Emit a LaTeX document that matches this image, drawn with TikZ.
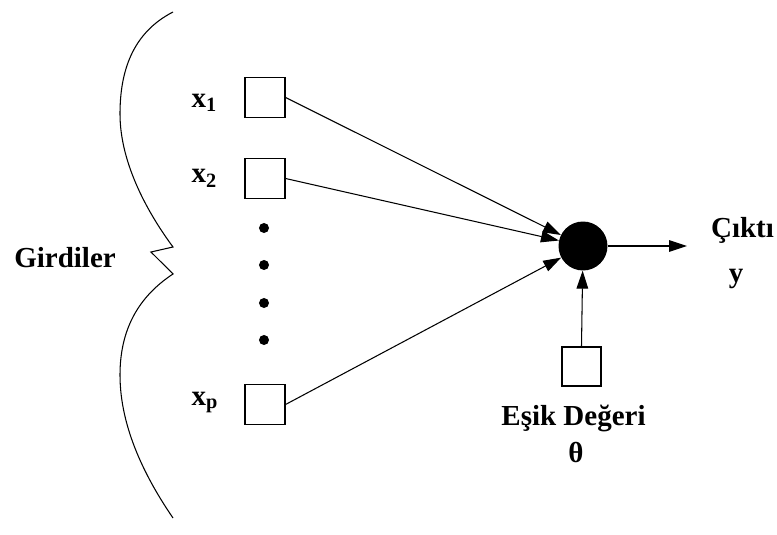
\documentclass[tikz,border=0pt]{standalone}
\usepackage{fontspec}
\setmainfont{Liberation Serif}
\usetikzlibrary{arrows.meta}

\tikzset{
  inbox/.style={draw, line width=1.2pt, minimum size=1.33cm, inner sep=0pt},
  wire/.style={line width=1pt, -{Triangle[length=17pt,width=11pt]}},
  lbl/.style={font=\fontsize{27.5}{30}\selectfont\bfseries},
}

\begin{document}
\begin{tikzpicture}
\useasboundingbox (0,0) rectangle (25.9,17.8);
% brace round the inputs
\draw[line width=1pt] (5.767,17.4) .. controls (4.4,16.7) and (4.0,15.4) .. (4.0,14.0)
  .. controls (4.0,12.3) and (5.0,10.6) .. (5.767,9.567) -- (5.033,9.4) -- (5.767,8.667)
  .. controls (4.6,7.9) and (4.0,6.8) .. (4.0,5.3)
  .. controls (4.0,3.5) and (4.9,1.8) .. (5.767,0.533);
\node[inbox] (x1) at (8.833,14.55) {};
\node[inbox] (x2) at (8.833,11.85) {};
\node[inbox] (xp) at (8.833,4.317) {};
\foreach \y in {10.2,8.967,7.7,6.467}
  \fill (8.8,\y) circle (0.167);
\node[inbox, minimum size=1.3cm] (th) at (19.383,5.583) {};
\node[circle, fill=black, minimum size=1.633cm, inner sep=0pt] (n) at (19.433,9.6) {};
\coordinate (out) at (22.9,9.6);
\draw[wire] (x1.east) -- (n);
\draw[wire] (x2.east) -- (n);
\draw[wire] (xp.east) -- (n);
\draw[wire] (th.north) -- (n);
\draw[wire] (n) -- (out);
\node[lbl, anchor=base] (gir) at (2.167,8.867) {Girdiler};
\node[lbl, anchor=base west] (l1) at (6.267,14.233) {x\textsubscript{1}};
\node[lbl, anchor=base west] (l2) at (6.267,11.7) {x\textsubscript{2}};
\node[lbl, anchor=base west] (lp) at (6.267,4.3) {x\textsubscript{p}};
\node[lbl, anchor=base] (cikti) at (24.75,9.867) {Çıktı};
\node[lbl, anchor=base] (yy) at (24.533,8.367) {y};
\node[lbl, anchor=base] (esik) at (19.117,3.633) {Eşik Değeri};
\node[lbl, anchor=base] (teta) at (19.2,2.4) {θ};
\end{tikzpicture}
\end{document}
